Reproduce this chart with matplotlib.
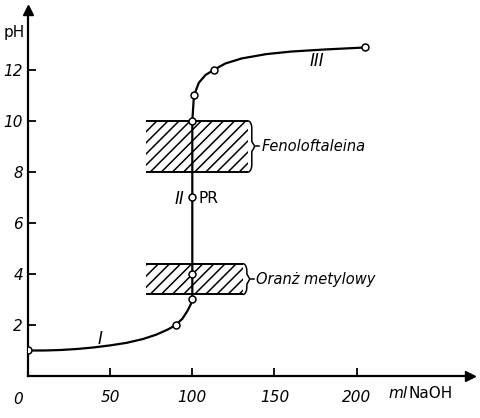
import numpy as np
import matplotlib.pyplot as plt
from matplotlib.patches import Rectangle

# titration curve (ml NaOH, pH)
curve_ml = [0, 10, 20, 30, 40, 50, 60, 70, 78, 85, 90, 94, 97, 99, 100, 100, 100, 100,
            100.5, 101, 104, 108, 113, 120, 130, 145, 160, 180, 205]
curve_ph = [1.0, 1.0, 1.02, 1.06, 1.12, 1.2, 1.3, 1.45, 1.62, 1.82, 2.0, 2.25, 2.55, 2.8, 3.0,
            4.0, 7.0, 10.0, 10.5, 11.0, 11.5, 11.8, 12.0, 12.25, 12.45, 12.62, 12.72, 12.8, 12.88]

# measured points (open circles)
point_ml = [0, 90, 100, 100, 100, 100, 101, 113, 205]
point_ph = [1.0, 2.0, 3.0, 4.0, 7.0, 10.0, 11.0, 12.0, 12.88]

# indicator ranges
ind_names = ['Fenoloftaleina', 'Oranż metylowy']
ind_low = [8.0, 3.2]
ind_high = [10.0, 4.4]
ind_left = [72, 72]
ind_right = [134, 131]

xticks = [50, 100, 150, 200]
yticks = [2, 4, 6, 8, 10, 12]


def draw_brace(ax, x, lo, hi):
    """right-hand curly brace from lo to hi starting at x"""
    mid = (lo + hi) / 2
    rx, ry = 2.2, 0.3
    a = np.linspace(0, np.pi / 2, 12)
    # top corner
    xs = list(x + rx * np.sin(a))
    ys = list(hi - ry + ry * np.cos(a))
    # down to middle point
    xs += [x + rx, x + rx, x + rx + 1.8, x + rx, x + rx]
    ys += [hi - ry, mid + 0.2, mid, mid - 0.2, lo + ry]
    # bottom corner
    xs += list(x + rx * np.sin(a[::-1]))
    ys += list(lo + ry - ry * np.cos(a[::-1]))
    ax.plot(xs, ys, color='black', lw=1.1, solid_joinstyle='round')
    ax.plot([x + rx + 2.8, x + rx + 4.6], [mid, mid], color='black', lw=1.1)


fig = plt.figure(figsize=(4.81, 4.18), dpi=100)
ax = fig.add_axes([28 / 481, 42 / 418, 442 / 481, 366 / 418])
ax.set_xlim(0, 269)
ax.set_ylim(0, 14.35)

for s in ['top', 'right']:
    ax.spines[s].set_visible(False)
for s in ['left', 'bottom']:
    ax.spines[s].set_linewidth(1.6)

# arrow heads on the axes
ax.plot(1, 0, '>k', ms=7, transform=ax.get_yaxis_transform(), clip_on=False)
ax.plot(0, 1, '^k', ms=7, transform=ax.get_xaxis_transform(), clip_on=False)

ax.set_xticks(xticks)
ax.set_yticks(yticks)
ax.tick_params(direction='in', length=6, width=1.3, labelsize=11)
ax.tick_params(axis='x', pad=10)
for lab in ax.get_xticklabels() + ax.get_yticklabels():
    lab.set_fontstyle('italic')

# hatched indicator boxes with braces
plt.rcParams['hatch.linewidth'] = 1.1
for name, lo, hi, l, r in zip(ind_names, ind_low, ind_high, ind_left, ind_right):
    ax.add_patch(Rectangle((l, lo), r - l, hi - lo, facecolor='none', edgecolor='black',
                           hatch='///', linewidth=0, zorder=1))
    ax.hlines([lo, hi], l, r, color='black', lw=1.4, zorder=2)
    draw_brace(ax, r, lo, hi)
    ax.text(r + 8, (lo + hi) / 2, name, fontstyle='italic', fontsize=10.5,
            va='center', ha='left')

# curve and points
ax.plot(curve_ml, curve_ph, color='black', lw=1.6, zorder=3)
ax.plot(point_ml, point_ph, 'o', ms=5, mfc='white', mec='black', mew=1.1, zorder=4)

ax.text(44, 1.45, 'I', fontstyle='italic', fontsize=12, ha='center', va='center')
ax.text(92, 6.95, 'II', fontstyle='italic', fontsize=12, ha='center', va='center')
ax.text(104, 6.95, 'PR', fontsize=11, ha='left', va='center')
ax.text(176, 12.35, 'III', fontstyle='italic', fontsize=12, ha='center', va='center')

fig.text(14 / 481, 1 - 33 / 418, 'pH', fontsize=11, ha='center', va='center')
fig.text(18 / 481, 1 - 400 / 418, '0', fontsize=11, fontstyle='italic', ha='center', va='center')
fig.text(388 / 481, 1 - 394 / 418, 'ml', fontsize=11, fontstyle='italic', ha='left', va='center')
fig.text(408 / 481, 1 - 394 / 418, 'NaOH', fontsize=11, ha='left', va='center')

fig.savefig('out.png', dpi=100)
